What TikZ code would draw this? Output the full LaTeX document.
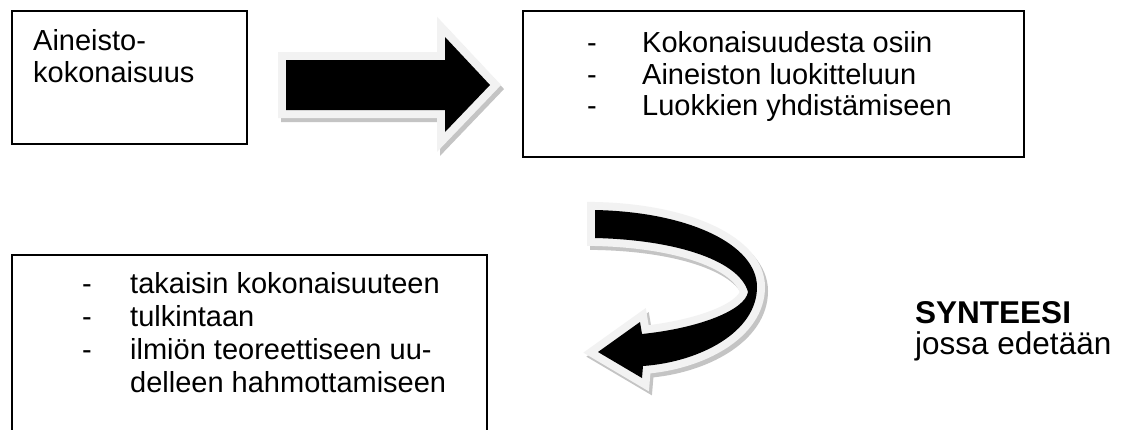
\documentclass[tikz,border=0pt]{standalone}
\usepackage{fontspec}
\setmainfont{Liberation Sans}
\definecolor{rim}{HTML}{F2F2F2}
\definecolor{shade}{HTML}{C4C4C4}
\begin{document}
\begin{tikzpicture}[x=1pt,y=-1pt,
  box/.style={draw=black,line width=1.6pt,inner sep=0pt,fill=white},
  txt/.style={anchor=base west,inner sep=0pt,font=\fontsize{29}{32}\selectfont},
  rtxt/.style={anchor=base west,inner sep=0pt,font=\fontsize{31.5}{34}\selectfont},
  btxt/.style={rtxt,font=\fontsize{31.5}{34}\selectfont\bfseries},
  rimline/.style={draw=rim,line width=16pt,line join=miter,miter limit=20},
  shadowline/.style={draw=shade,fill=shade,line width=16pt,line join=miter,miter limit=20}]
\useasboundingbox (0,0) rectangle (1122,429);
\clip (0,0) rectangle (1122,429);
\fill[white] (0,0) rectangle (1122,429);

% boxes
\node[box,minimum width=235pt,minimum height=133pt] (b1) at (129.5,77.5) {};
\node[box,minimum width=501pt,minimum height=146pt] (b2) at (773.5,84) {};
\node[box,minimum width=475pt,minimum height=200pt] (b3) at (249.5,355) {};

% box 1 text
\node[txt] (t11) at (33,50) {Aineisto-};
\node[txt] (t12) at (33,82) {kokonaisuus};

% box 2 text
\node[txt] (d21) at (587,52) {-};
\node[txt] (d22) at (587,84) {-};
\node[txt] (d23) at (587,115) {-};
\node[txt] (t21) at (642,52) {Kokonaisuudesta osiin};
\node[txt] (t22) at (642,84) {Aineiston luokitteluun};
\node[txt] (t23) at (642,115) {Luokkien yhdistämiseen};

% box 3 text
\node[txt] (d31) at (82,293) {-};
\node[txt] (d32) at (82,326) {-};
\node[txt] (d33) at (82,359) {-};
\node[txt] (t31) at (130,293) {takaisin kokonaisuuteen};
\node[txt] (t32) at (130,326) {tulkintaan};
\node[txt] (t33) at (130,359) {ilmiön teoreettiseen uu-};
\node[txt] (t34) at (130,392) {delleen hahmottamiseen};

% right text
\node[btxt] (s1) at (915,323) {SYNTEESI};
\node[rtxt] (s2) at (915,354) {jossa edetään};

% straight block arrow
\def\straightarrow{(286,60) -- (445,60) -- (445,37) -- (490,85) -- (445,132) -- (445,110) -- (286,110) -- cycle}
\begin{scope}[shift={(3,4)}]
  \path[shadowline] \straightarrow;
\end{scope}
\path[rimline] \straightarrow;
\fill[black] \straightarrow;

% curved U-turn arrow
\def\curvedarrow{(595,210) .. controls (690,212) and (757,245) .. (757,287)
   .. controls (757,332) and (700,362) .. (643,366)
   -- (642,378) -- (598,352) -- (640,322) -- (642,334)
   .. controls (700,328) and (745,310) .. (748,292)
   .. controls (740,262) and (680,240) .. (595,238) -- cycle}
\begin{scope}[shift={(3,4)}]
  \path[shadowline] \curvedarrow;
\end{scope}
\path[rimline] \curvedarrow;
\fill[black] \curvedarrow;
\end{tikzpicture}
\end{document}
